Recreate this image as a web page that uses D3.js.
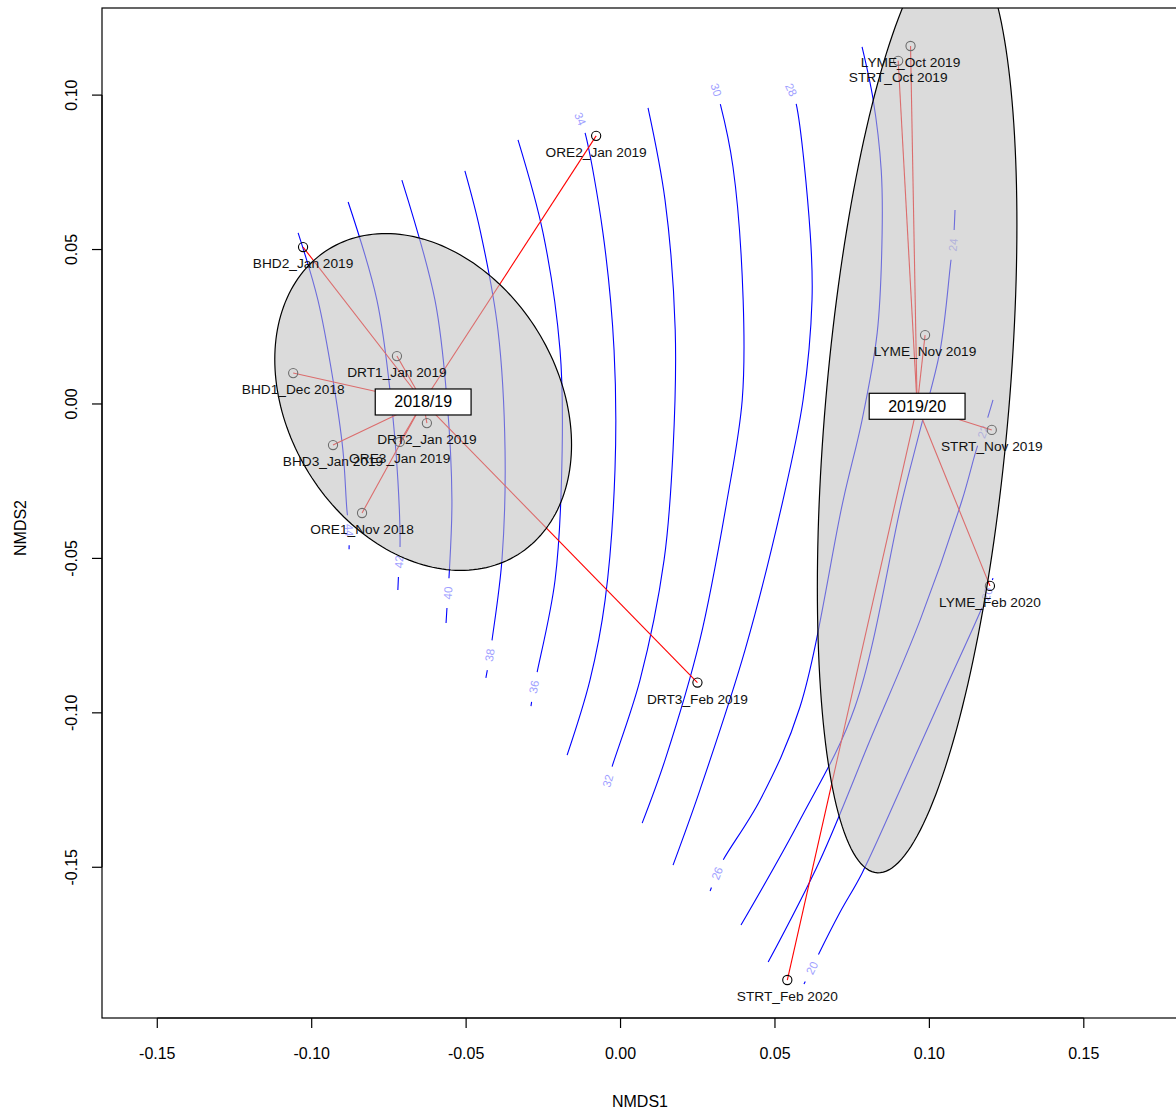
<!DOCTYPE html>
<html>
<head>
<meta charset="utf-8">
<script src="https://cdn.jsdelivr.net/npm/d3@7"></script>
<style>
  body { margin: 0; background: #fff; }
  svg { display: block; font-family: "Liberation Sans", Arial, Helvetica, sans-serif; }
</style>
</head>
<body>
<svg id="chart" width="1176" height="1113"></svg>
<script>
// ---- NMDS sample scores -------------------------------------------------
const sampleLabels = [
  "ORE2_Jan 2019", "BHD2_Jan 2019", "DRT1_Jan 2019", "BHD1_Dec 2018", "DRT2_Jan 2019",
  "BHD3_Jan 2019", "ORE3_Jan 2019", "ORE1_Nov 2018", "DRT3_Feb 2019",
  "LYME_Oct 2019", "STRT_Oct 2019", "LYME_Nov 2019", "STRT_Nov 2019", "LYME_Feb 2020", "STRT_Feb 2020"
];
const sampleSeason = [
  "2018/19", "2018/19", "2018/19", "2018/19", "2018/19", "2018/19", "2018/19", "2018/19", "2018/19",
  "2019/20", "2019/20", "2019/20", "2019/20", "2019/20", "2019/20"
];
const nmds1 = [-0.0079, -0.1028, -0.0724, -0.1060, -0.0627, -0.0931, -0.0715, -0.0837, 0.0249,
               0.0939, 0.0899, 0.0986, 0.1202, 0.1196, 0.0540];
const nmds2 = [0.0868, 0.0508, 0.0155, 0.0100, -0.0062, -0.0133, -0.0123, -0.0353, -0.0902,
               0.1159, 0.1111, 0.0223, -0.0084, -0.0589, -0.1865];
const seasons = ["2018/19", "2019/20"];

// ---- axes ---------------------------------------------------------------
const xLimits = [-0.1679, 0.1805];
const yLimits = [-0.1988, 0.1282];
const xTicks = [-0.15, -0.10, -0.05, 0.00, 0.05, 0.10, 0.15];
const yTicks = [-0.15, -0.10, -0.05, 0.00, 0.05, 0.10];
const xTitle = "NMDS1";
const yTitle = "NMDS2";

// ---- fitted surface contours (ordisurf) --------------------------------
const contourLevels = [44, 42, 40, 38, 36, 34, 32, 30, 28, 26, 24, 22, 20];
const contourLines = [
  [[-0.1044, 0.0554], [-0.0980, 0.0337], [-0.0931, 0.0078], [-0.0899, -0.0149], [-0.0886, -0.0343], [-0.0879, -0.0408], [-0.0879, -0.0470]],
  [[-0.0882, 0.0654], [-0.0789, 0.0337], [-0.0743, 0.0013], [-0.0721, -0.0246], [-0.0714, -0.0463], [-0.0717, -0.0512], [-0.0721, -0.0602]],
  [[-0.0708, 0.0725], [-0.0601, 0.0337], [-0.0562, 0.0013], [-0.0546, -0.0311], [-0.0555, -0.0554], [-0.0559, -0.0612], [-0.0565, -0.0709]],
  [[-0.0504, 0.0755], [-0.0455, 0.0564], [-0.0397, 0.0240], [-0.0374, -0.0149], [-0.0384, -0.0505], [-0.0416, -0.0764], [-0.0423, -0.0813], [-0.0436, -0.0887]],
  [[-0.0332, 0.0855], [-0.0251, 0.0554], [-0.0196, 0.0175], [-0.0189, -0.0149], [-0.0212, -0.0570], [-0.0270, -0.0868], [-0.0280, -0.0916], [-0.0290, -0.0978]],
  [[-0.0131, 0.0923], [-0.0115, 0.0878], [-0.0057, 0.0554], [-0.0021, 0.0175], [-0.0018, -0.0214], [-0.0050, -0.0635], [-0.0099, -0.0894], [-0.0173, -0.1137]],
  [[0.0089, 0.0959], [0.0144, 0.0661], [0.0177, 0.0240], [0.0170, -0.0149], [0.0141, -0.0505], [0.0063, -0.0894], [-0.0028, -0.1176], [-0.0041, -0.1221]],
  [[0.0309, 0.1017], [0.0322, 0.0975], [0.0364, 0.0768], [0.0397, 0.0337], [0.0394, 0.0013], [0.0345, -0.0311], [0.0257, -0.0764], [0.0144, -0.1153], [0.0070, -0.1357]],
  [[0.0552, 0.1017], [0.0568, 0.0975], [0.0614, 0.0554], [0.0620, 0.0337], [0.0591, 0.0013], [0.0526, -0.0311], [0.0403, -0.0797], [0.0257, -0.1250], [0.0170, -0.1493]],
  [[0.0782, 0.1156], [0.0818, 0.0985], [0.0844, 0.0758], [0.0847, 0.0554], [0.0831, 0.0230], [0.0782, -0.0052], [0.0721, -0.0311], [0.0581, -0.0981], [0.0452, -0.1282], [0.0332, -0.1477], [0.0313, -0.1519], [0.0290, -0.1577]],
  [[0.1083, 0.0628], [0.1077, 0.0515], [0.1070, 0.0466], [0.1035, 0.0175], [0.0970, -0.0084], [0.0912, -0.0311], [0.0759, -0.0981], [0.0581, -0.1347], [0.0390, -0.1687]],
  [[0.1206, 0.0013], [0.1174, -0.0091], [0.1155, -0.0139], [0.1106, -0.0311], [0.0970, -0.0700], [0.0808, -0.1088], [0.0646, -0.1477], [0.0478, -0.1807]],
  [[0.1206, -0.0564], [0.1187, -0.0615], [0.1167, -0.0667], [0.1035, -0.0959], [0.0905, -0.1250], [0.0782, -0.1519], [0.0711, -0.1645], [0.0640, -0.1784], [0.0620, -0.1826], [0.0594, -0.1878]]
];
// vertex of each contour where its level label sits
const contourLabelAt = [[5], [5], [5], [6], [6], [0], [7], [0], [0], [10], [1], [1], [1, 8]];

// ---- layout --------------------------------------------------------------
const W = 1176, H = 1113;
const plot = { left: 102, right: 1178, top: 8, bottom: 1018 };
const FONT = '"Liberation Sans", Arial, Helvetica, sans-serif';

const svg = d3.select("#chart");
const x = d3.scaleLinear().domain(xLimits).range([plot.left, plot.right]);
const y = d3.scaleLinear().domain(yLimits).range([plot.bottom, plot.top]);

svg.append("rect").attr("width", W).attr("height", H).attr("fill", "#fff");

svg.append("defs").append("clipPath").attr("id", "plotClip")
  .append("rect")
  .attr("x", plot.left).attr("y", plot.top)
  .attr("width", plot.right - plot.left).attr("height", plot.bottom - plot.top);

const g = svg.append("g").attr("clip-path", "url(#plotClip)");

// ---- contours with labels set into gaps ---------------------------------
const LABEL_GAP = 15;
const gContour = g.append("g");
const smooth = d3.line().curve(d3.curveCatmullRom.alpha(0.5));

contourLines.forEach((pts, i) => {
  const pix = pts.map(d => [x(d[0]), y(d[1])]);
  const path = gContour.append("path")
    .attr("d", smooth(pix))
    .attr("fill", "none")
    .attr("stroke", "#0000ff")
    .attr("stroke-width", 1.1);
  const node = path.node();
  const total = node.getTotalLength();

  // distance along the curve closest to a vertex
  const lengthAt = p => {
    let best = 0, bestD = Infinity;
    for (let s = 0; s <= total; s += 0.5) {
      const q = node.getPointAtLength(s);
      const dd = (q.x - p[0]) ** 2 + (q.y - p[1]) ** 2;
      if (dd < bestD) { bestD = dd; best = s; }
    }
    return best;
  };

  const labs = contourLabelAt[i].slice().sort((a, b) => a - b);
  const dash = [];
  let pos = 0;
  labs.forEach(k => {
    const at = lengthAt(pix[k]);
    const s = Math.max(pos, at - LABEL_GAP);
    dash.push(s - pos, at + LABEL_GAP - s);
    pos = at + LABEL_GAP;

    const a = node.getPointAtLength(Math.max(at - 4, 0));
    const b = node.getPointAtLength(Math.min(at + 4, total));
    let ang = Math.atan2(b.y - a.y, b.x - a.x) * 180 / Math.PI;
    if (ang > 90) ang -= 180;
    if (ang <= -90) ang += 180;
    const c = node.getPointAtLength(at);
    gContour.append("text")
      .attr("transform", `translate(${c.x},${c.y}) rotate(${ang})`)
      .attr("text-anchor", "middle")
      .attr("dominant-baseline", "central")
      .attr("font-family", FONT)
      .attr("font-size", 11.5)
      .attr("fill", "#a0a0ff")
      .text(contourLevels[i]);
  });
  dash.push(Math.max(total - pos, 0) + 2, 4000);
  path.attr("stroke-dasharray", dash.join(","));
});

// ---- groups: centroids, spiders, standard-error ellipses ---------------
const samples = sampleLabels.map((lab, i) => ({ lab, season: sampleSeason[i], x: nmds1[i], y: nmds2[i] }));
const ellipseConf = 0.995;
const chi2 = -2 * Math.log(1 - ellipseConf);

const groups = seasons.map(s => {
  const pts = samples.filter(d => d.season === s);
  const n = pts.length;
  const mx = d3.mean(pts, d => d.x), my = d3.mean(pts, d => d.y);
  let sxx = 0, syy = 0, sxy = 0;
  pts.forEach(d => {
    sxx += (d.x - mx) ** 2; syy += (d.y - my) ** 2; sxy += (d.x - mx) * (d.y - my);
  });
  const k = chi2 / (n * (n - 1));
  const a = sxx * k, b = sxy * k, c = syy * k;
  const l11 = Math.sqrt(a), l21 = b / l11, l22 = Math.sqrt(c - l21 * l21);
  const ring = d3.range(0, 200).map(j => {
    const t = j / 200 * 2 * Math.PI;
    const u = Math.cos(t), v = Math.sin(t);
    return [mx + l11 * u, my + l21 * u + l22 * v];
  });
  return { season: s, pts, mx, my, ring };
});

// spider lines
groups.forEach(gr => {
  g.append("g").selectAll("line").data(gr.pts).join("line")
    .attr("x1", x(gr.mx)).attr("y1", y(gr.my))
    .attr("x2", d => x(d.x)).attr("y2", d => y(d.y))
    .attr("stroke", "#ff0000").attr("stroke-width", 1.1);
});

// sample points
g.append("g").selectAll("circle").data(samples).join("circle")
  .attr("cx", d => x(d.x)).attr("cy", d => y(d.y))
  .attr("r", 4.6)
  .attr("fill", "none").attr("stroke", "#000").attr("stroke-width", 1.1);

// ellipses (translucent grey over everything drawn so far)
const ellLine = d3.line().x(d => x(d[0])).y(d => y(d[1])).curve(d3.curveLinearClosed);
groups.forEach(gr => {
  g.append("path")
    .attr("d", ellLine(gr.ring))
    .attr("fill", "rgb(192,192,192)")
    .attr("fill-opacity", 0.57)
    .attr("stroke", "#000")
    .attr("stroke-width", 1.2);
});

// sample labels
g.append("g").selectAll("text").data(samples).join("text")
  .attr("x", d => x(d.x)).attr("y", d => y(d.y) + 21)
  .attr("text-anchor", "middle")
  .attr("font-family", FONT)
  .attr("font-size", 13.7)
  .attr("fill", "#111")
  .text(d => d.lab);

// centroid labels in boxes
groups.forEach(gr => {
  const cx = x(gr.mx), cy = y(gr.my);
  const t = g.append("text")
    .attr("x", cx).attr("y", cy)
    .attr("text-anchor", "middle")
    .attr("dominant-baseline", "central")
    .attr("font-family", FONT)
    .attr("font-size", 16)
    .attr("fill", "#000")
    .text(gr.season);
  const w = t.node().getComputedTextLength() + 38, h = 26;
  g.insert("rect", () => t.node())
    .attr("x", cx - w / 2).attr("y", cy - h / 2)
    .attr("width", w).attr("height", h)
    .attr("fill", "#fff").attr("stroke", "#000").attr("stroke-width", 1.2);
});

// ---- frame and axes -----------------------------------------------------
svg.append("rect")
  .attr("x", plot.left).attr("y", plot.top)
  .attr("width", plot.right - plot.left).attr("height", plot.bottom - plot.top)
  .attr("fill", "none").attr("stroke", "#000").attr("stroke-width", 1.2);

const fmt = d => d.toFixed(2);
const TICK = 10;

const ax = svg.append("g");
ax.append("line")
  .attr("x1", x(xTicks[0])).attr("x2", x(xTicks[xTicks.length - 1]))
  .attr("y1", plot.bottom).attr("y2", plot.bottom)
  .attr("stroke", "#000").attr("stroke-width", 1.2);
ax.selectAll("line.xt").data(xTicks).join("line").attr("class", "xt")
  .attr("x1", d => x(d)).attr("x2", d => x(d))
  .attr("y1", plot.bottom).attr("y2", plot.bottom + TICK)
  .attr("stroke", "#000").attr("stroke-width", 1.2);
ax.selectAll("text.xl").data(xTicks).join("text").attr("class", "xl")
  .attr("x", d => x(d)).attr("y", 1059)
  .attr("text-anchor", "middle")
  .attr("font-family", FONT).attr("font-size", 16).attr("fill", "#000")
  .text(fmt);

ax.append("line")
  .attr("x1", plot.left).attr("x2", plot.left)
  .attr("y1", y(yTicks[0])).attr("y2", y(yTicks[yTicks.length - 1]))
  .attr("stroke", "#000").attr("stroke-width", 1.2);
ax.selectAll("line.yt").data(yTicks).join("line").attr("class", "yt")
  .attr("x1", plot.left - TICK).attr("x2", plot.left)
  .attr("y1", d => y(d)).attr("y2", d => y(d))
  .attr("stroke", "#000").attr("stroke-width", 1.2);
ax.selectAll("text.yl").data(yTicks).join("text").attr("class", "yl")
  .attr("transform", d => `translate(77,${y(d)}) rotate(-90)`)
  .attr("text-anchor", "middle")
  .attr("font-family", FONT).attr("font-size", 16).attr("fill", "#000")
  .text(fmt);

svg.append("text")
  .attr("x", (plot.left + plot.right) / 2).attr("y", 1107)
  .attr("text-anchor", "middle")
  .attr("font-family", FONT).attr("font-size", 16).attr("fill", "#000")
  .text(xTitle);
svg.append("text")
  .attr("transform", `translate(26,528) rotate(-90)`)
  .attr("text-anchor", "middle")
  .attr("font-family", FONT).attr("font-size", 16).attr("fill", "#000")
  .text(yTitle);
</script>
</body>
</html>
